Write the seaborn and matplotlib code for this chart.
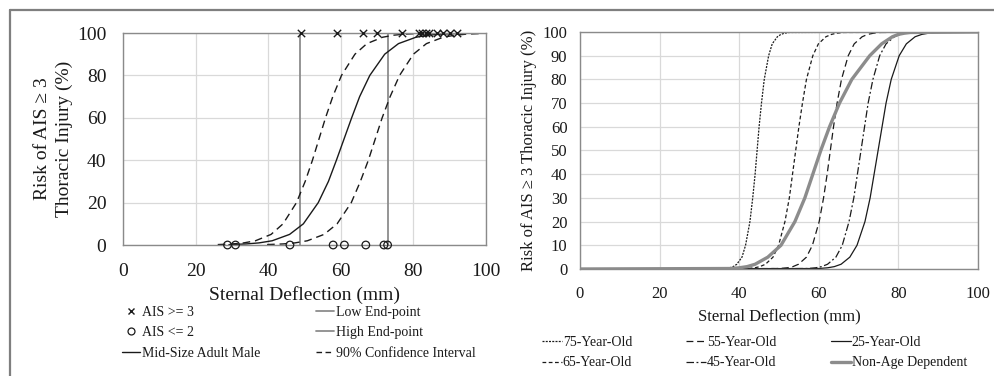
import matplotlib
matplotlib.use("Agg")
import matplotlib.pyplot as plt
from matplotlib.lines import Line2D
import numpy as np
import pandas as pd
import seaborn as sns

sns.set_theme(style="white")
plt.rcParams["font.family"] = ["Liberation Serif", "DejaVu Serif"]
plt.rcParams["text.color"] = "#1a1a1a"
plt.rcParams["axes.labelcolor"] = "#1a1a1a"
plt.rcParams["xtick.color"] = "#1a1a1a"
plt.rcParams["ytick.color"] = "#1a1a1a"

# ---------------------------------------------------------------- data
# Risk levels (%) at which each curve's deflection (mm) is tabulated
risk_levels = [0.2, 0.5, 1, 2, 5, 10, 20, 30, 40, 50, 60, 70, 80, 90, 95, 98, 99, 99.5, 99.8]

# Left panel: mid-size adult male risk curve and its 90% confidence band
mid_male = [29.2, 33.9, 37.5, 41.1, 45.9, 49.7, 53.8, 56.6, 58.8, 60.9, 63.0, 65.2, 68.0, 72.1, 75.9, 80.7, 84.3, 87.9, 92.6]
ci_lower = [26.1, 30.2, 33.3, 36.5, 40.8, 44.1, 47.8, 50.2, 52.2, 54.0, 55.8, 57.8, 60.2, 63.9, 67.2, 71.5, 74.7, 77.8, 81.9]
ci_upper = [39.7, 44.1, 47.4, 50.8, 55.4, 59.0, 62.9, 65.4, 67.6, 69.5, 71.4, 73.6, 76.2, 80.0, 83.6, 88.2, 91.6, 94.9, 99.3]

# Test outcomes (deflection in mm, plotted at 100 % / 0 %)
ais3_deflection = [49.0, 59.0, 66.0, 69.9, 77.0, 81.6, 82.5, 83.4, 84.3, 86.6, 88.3, 90.1, 92.1]
ais3_risk = [100, 100, 100, 100, 100, 100, 100, 100, 100, 100, 100, 100, 100]
ais2_deflection = [28.8, 31.0, 46.0, 57.9, 61.0, 66.9, 71.9, 72.9]
ais2_risk = [0, 0, 0, 0, 0, 0, 0, 0]

# Low / high end-points (mm)
low_end_point = 48.9
high_end_point = 73.1

# Right panel: age-dependent risk curves
age_75 = [36.4, 37.6, 38.5, 39.4, 40.7, 41.6, 42.7, 43.4, 44.0, 44.5, 45.0, 45.6, 46.3, 47.4, 48.3, 49.6, 50.5, 51.4, 52.6]
age_65 = [42.1, 43.9, 45.2, 46.6, 48.5, 49.9, 51.5, 52.6, 53.4, 54.2, 55.0, 55.9, 56.9, 58.5, 59.9, 61.8, 63.2, 64.5, 66.3]
age_55 = [50.2, 52.1, 53.5, 54.9, 56.9, 58.4, 60.1, 61.2, 62.1, 62.9, 63.7, 64.6, 65.7, 67.4, 68.9, 70.9, 72.3, 73.8, 75.6]
age_45 = [57.3, 59.2, 60.7, 62.2, 64.3, 65.9, 67.6, 68.8, 69.7, 70.6, 71.5, 72.4, 73.6, 75.3, 76.9, 79.0, 80.5, 82.0, 84.0]
age_25 = [60.0, 62.2, 63.9, 65.6, 67.8, 69.6, 71.6, 72.9, 73.9, 74.9, 75.9, 76.9, 78.2, 80.2, 82.0, 84.2, 85.9, 87.6, 89.8]
non_age = [38.0, 40.0, 42.0, 44.0, 47.2, 50.5, 54.0, 56.5, 58.5, 60.5, 62.7, 65.2, 68.3, 72.8, 75.8, 78.5, 80.0, 81.5, 83.0]

x_ticks = [0, 20, 40, 60, 80, 100]
left_y_ticks = [0, 20, 40, 60, 80, 100]
right_y_ticks = [0, 10, 20, 30, 40, 50, 60, 70, 80, 90, 100]
X_MIN, X_MAX = 0, 100
Y_MIN, Y_MAX = 0, 100

# ---------------------------------------------------------------- styles
INK = "#1a1a1a"
GRID = "#d9d9d9"
SPINE = "#8a8a8a"
END_GREY = "#8c8c8c"
NONAGE_GREY = "#8c8c8c"


def curve_frame(deflection, extend=False):
    xs = list(deflection)
    ys = list(risk_levels)
    if extend:
        xs = [X_MIN] + xs + [X_MAX]
        ys = [Y_MIN] + ys + [Y_MAX]
    return pd.DataFrame({"deflection": xs, "risk": ys})


def style_axes(ax, yticks, tick_size, xpad, ypad):
    ax.set_xlim(X_MIN, X_MAX)
    ax.set_ylim(Y_MIN, Y_MAX)
    ax.set_xticks(x_ticks)
    ax.set_yticks(yticks)
    ax.grid(True, color=GRID, lw=0.9)
    ax.set_axisbelow(True)
    for s in ax.spines.values():
        s.set_color(SPINE)
        s.set_linewidth(1.0)
        s.set_visible(True)
    ax.tick_params(length=0, labelsize=tick_size)
    ax.tick_params(axis="x", pad=xpad)
    ax.tick_params(axis="y", pad=ypad)


fig = plt.figure(figsize=(9.95, 3.76), dpi=100)
ax1 = fig.add_axes([0.1236, 0.3484, 0.3648, 0.5638])
ax2 = fig.add_axes([0.5829, 0.2846, 0.4000, 0.6303])

# ---------------------------------------------------------------- left panel
style_axes(ax1, left_y_ticks, 14, 13, 12)
ax1.vlines([low_end_point], Y_MIN, Y_MAX, color=END_GREY, lw=1.3, zorder=2)
ax1.vlines([high_end_point], Y_MIN, Y_MAX, color=END_GREY, lw=1.3, zorder=2)

sns.lineplot(data=curve_frame(ci_lower), x="deflection", y="risk", ax=ax1,
             color=INK, lw=1.0, linestyle=(0, (5.5, 3.5)), sort=False, estimator=None)
sns.lineplot(data=curve_frame(mid_male), x="deflection", y="risk", ax=ax1,
             color=INK, lw=1.0, sort=False, estimator=None)
sns.lineplot(data=curve_frame(ci_upper), x="deflection", y="risk", ax=ax1,
             color=INK, lw=1.0, linestyle=(0, (5.5, 3.5)), sort=False, estimator=None)

sns.scatterplot(x=ais3_deflection, y=ais3_risk, ax=ax1, marker="x", s=28,
                color=INK, linewidth=1.0, clip_on=False, zorder=5)
sns.scatterplot(x=ais2_deflection, y=ais2_risk, ax=ax1, marker="o", s=30,
                facecolors="none", edgecolors=INK, linewidth=0.9, clip_on=False, zorder=5)

ax1.set_xlabel("Sternal Deflection (mm)", fontsize=14, labelpad=4)
ax1.set_ylabel("Risk of AIS \u2265 3\nThoracic Injury (%)", fontsize=14, labelpad=3,
               linespacing=1.3)

# ---------------------------------------------------------------- right panel
style_axes(ax2, right_y_ticks, 12, 12, 9)
right_curves = [
    (age_75, dict(color=INK, lw=0.9, linestyle=(0, (1.6, 1.0)))),
    (age_65, dict(color=INK, lw=0.9, linestyle=(0, (3.0, 2.0)))),
    (age_55, dict(color=INK, lw=0.9, linestyle=(0, (5.5, 3.0)))),
    (age_45, dict(color=INK, lw=0.9, linestyle=(0, (6.0, 2.0, 1.5, 2.0)))),
    (age_25, dict(color=INK, lw=0.9, linestyle="-")),
    (non_age, dict(color=NONAGE_GREY, lw=2.4, linestyle="-")),
]
for defl, kw in right_curves:
    sns.lineplot(data=curve_frame(defl, extend=True), x="deflection", y="risk",
                 ax=ax2, sort=False, estimator=None, **kw)

ax2.set_xlabel("Sternal Deflection (mm)", fontsize=12, labelpad=5)
ax2.set_ylabel("Risk of AIS \u2265 3 Thoracic Injury (%)", fontsize=12, labelpad=4)

for ax in (ax1, ax2):
    if ax.get_legend() is not None:
        ax.get_legend().remove()

# ---------------------------------------------------------------- legends
left_handles = [
    Line2D([], [], marker="x", linestyle="none", color=INK, markersize=5, mew=1.0),
    Line2D([], [], marker="o", linestyle="none", color=INK, mfc="none", markersize=5, mew=0.9),
    Line2D([], [], color=INK, lw=1.0),
    Line2D([], [], color=END_GREY, lw=1.3),
    Line2D([], [], color=END_GREY, lw=1.3),
    Line2D([], [], color=INK, lw=1.0, linestyle=(0, (4.0, 2.5))),
]
left_labels = ["AIS >= 3", "AIS <= 2", "Mid-Size Adult Male",
               "Low End-point", "High End-point", "90% Confidence Interval"]
fig.legend(left_handles, left_labels, ncol=2, loc="upper left",
           bbox_to_anchor=(0.1226, 0.186), frameon=False, fontsize=10,
           handlelength=1.3, handletextpad=0.15, columnspacing=4.0,
           labelspacing=0.52, borderpad=0, borderaxespad=0)

right_handles = [
    Line2D([], [], **right_curves[i][1]) for i in range(6)
]
right_labels = ["75-Year-Old", "65-Year-Old", "55-Year-Old",
                "45-Year-Old", "25-Year-Old", "Non-Age Dependent"]
fig.legend(right_handles, right_labels, ncol=3, loc="upper left",
           bbox_to_anchor=(0.5447, 0.106), frameon=False, fontsize=10,
           handlelength=1.45, handletextpad=0.05, columnspacing=3.9,
           labelspacing=0.52, borderpad=0, borderaxespad=0)

# ---------------------------------------------------------------- outer frame
fig.add_artist(Line2D([10 / 995, 1.0], [1 - 10 / 376, 1 - 10 / 376],
                      transform=fig.transFigure, color="#7f7f7f", lw=1.6))
fig.add_artist(Line2D([10 / 995, 10 / 995], [0.0, 1 - 10 / 376],
                      transform=fig.transFigure, color="#7f7f7f", lw=1.6))

fig.savefig("out.png", dpi=100, facecolor="white")
